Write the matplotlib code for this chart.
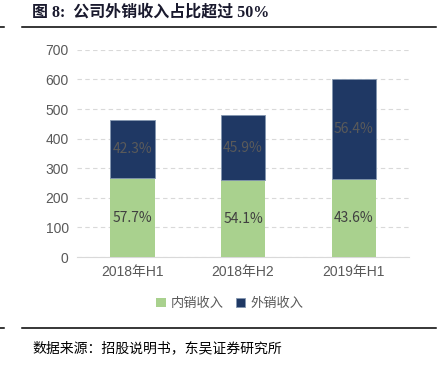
import matplotlib.pyplot as plt
from matplotlib.lines import Line2D

plt.rcParams['font.family'] = ['Noto Sans CJK SC', 'DejaVu Sans']

# data
periods = ["2018年H1", "2018年H2", "2019年H1"]
domestic = [266.6, 259.1, 262.0]
foreign = [195.4, 219.9, 339.0]
domestic_pct = ["57.7%", "54.1%", "43.6%"]
foreign_pct = ["42.3%", "45.9%", "56.4%"]
yticks = [0, 100, 200, 300, 400, 500, 600, 700]

green = "#A9D18E"
navy = "#1F3864"
gray = "#595959"
tick_font = ['Liberation Sans', 'Noto Sans CJK SC']

fig = plt.figure(figsize=(4.4, 3.72), dpi=100)
ax = fig.add_axes([0.175, 0.309, 0.755, 0.557])

x = range(len(periods))
ax.bar(x, domestic, width=0.4, color=green, label="内销收入", zorder=3)
ax.bar(x, foreign, width=0.4, bottom=domestic, color=navy, label="外销收入",
       edgecolor="#8497b0", linewidth=0.6, zorder=3)

for i in x:
    ax.text(i, domestic[i] / 2, domestic_pct[i], ha="center", va="center",
            color="#404040", fontsize=10, zorder=4)
    ax.text(i, domestic[i] + foreign[i] / 2, foreign_pct[i], ha="center",
            va="center", color="#5a5a5a", fontsize=10, zorder=4)

ax.set_xlim(-0.5, 2.5)
ax.set_ylim(0, 700)
ax.set_yticks(yticks)
ax.set_xticks(list(x))
ax.set_xticklabels(periods)
ax.tick_params(length=0, colors=gray, labelsize=10, pad=6)
for lab in ax.get_xticklabels() + ax.get_yticklabels():
    lab.set_family(tick_font)
ax.yaxis.grid(True, linestyle=(0, (4, 3)), color="#d9d9d9", linewidth=0.8, zorder=0)
for s in ["top", "right", "left"]:
    ax.spines[s].set_visible(False)
ax.spines["bottom"].set_color("#d9d9d9")

ax.legend(loc="upper center", bbox_to_anchor=(0.46, -0.135), ncol=2, frameon=False,
          handlelength=0.7, handleheight=0.7, handletextpad=0.4, columnspacing=0.9,
          fontsize=9.5, labelcolor=gray)

# header / footer
fig.text(0.073, 0.967, "图 8:  公司外销收入占比超过 50%", fontsize=11.5, fontweight="bold",
         color="#1a1a2e", va="center", family=['Liberation Serif', 'Noto Sans CJK SC'])
fig.add_artist(Line2D([0.05, 0.99], [0.927, 0.927], color="black", linewidth=1.1))
fig.add_artist(Line2D([0.0, 0.01], [0.927, 0.927], color="black", linewidth=1.1))
fig.add_artist(Line2D([0.05, 0.99], [0.118, 0.118], color="black", linewidth=1.1))
fig.add_artist(Line2D([0.0, 0.01], [0.118, 0.118], color="black", linewidth=1.1))
fig.text(0.073, 0.064, "数据来源：招股说明书，东吴证券研究所", fontsize=10, color="black",
         va="center")

fig.savefig("out.png", dpi=100)
